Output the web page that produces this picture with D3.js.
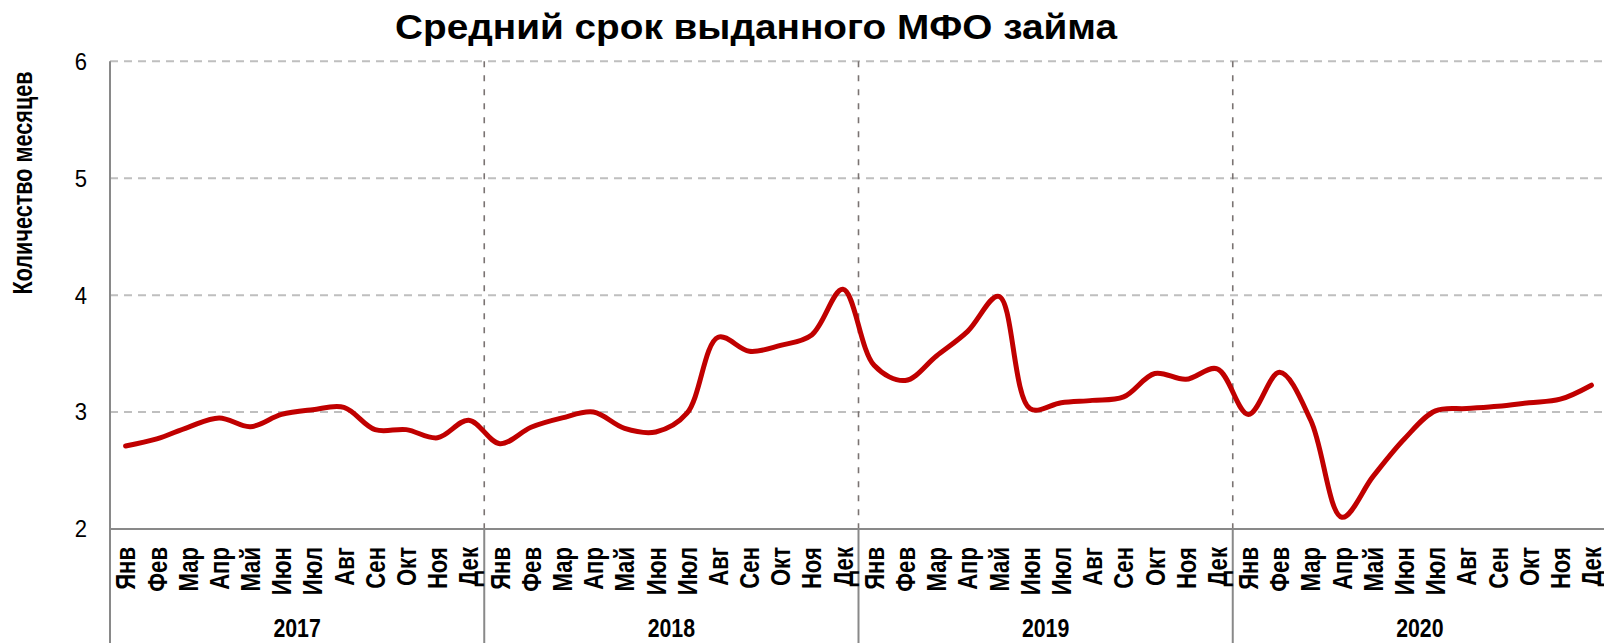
<!DOCTYPE html>
<html>
<head>
<meta charset="utf-8">
<script src="https://cdn.jsdelivr.net/npm/d3@7/dist/d3.min.js"></script>
<style>
  html, body { margin: 0; padding: 0; background: #fff; }
  svg { display: block; }
  text { font-family: "Liberation Sans", Arial, sans-serif; fill: #000; }
</style>
</head>
<body>
<svg id="chart" width="1604" height="643"></svg>
<script>
// ---- data ----
const title = "Средний срок выданного МФО займа";
const yTitle = "Количество месяцев";
const years = ["2017", "2018", "2019", "2020"];
const months = ["Янв", "Фев", "Мар", "Апр", "Май", "Июн", "Июл", "Авг", "Сен", "Окт", "Ноя", "Дек"];
const values2017 = [2.71, 2.77, 2.87, 2.95, 2.875, 2.98, 3.02, 3.04, 2.85, 2.85, 2.78, 2.93];
const values2018 = [2.73, 2.87, 2.95, 3.00, 2.86, 2.83, 2.99, 3.64, 3.52, 3.57, 3.66, 4.05];
const values2019 = [3.40, 3.27, 3.48, 3.69, 3.99, 3.03, 3.08, 3.10, 3.13, 3.33, 3.28, 3.37];
const values2020 = [2.98, 3.34, 2.93, 2.10, 2.45, 2.77, 3.01, 3.03, 3.05, 3.08, 3.11, 3.23];
const yTicks = [2, 3, 4, 5, 6];

const series = [values2017, values2018, values2019, values2020];
const data = [];
years.forEach((yr, yi) => {
  months.forEach((m, mi) => {
    data.push({ key: yr + "-" + mi, year: yr, month: m, value: series[yi][mi] });
  });
});

// ---- layout ----
const svg = d3.select("#chart");
const plotLeft = 110, plotRight = 1607, plotTop = 61.3, plotBottom = 529;

const x = d3.scaleBand().domain(data.map(d => d.key)).range([plotLeft, plotRight]).padding(0);
const y = d3.scaleLinear().domain([2, 6]).range([plotBottom, plotTop]);
const xYear = d3.scaleBand().domain(years).range([plotLeft, plotRight]).padding(0);

// horizontal gridlines
svg.append("g").selectAll("line")
  .data(yTicks.filter(t => t > 2))
  .join("line")
  .attr("x1", plotLeft).attr("x2", 1604)
  .attr("y1", d => y(d)).attr("y2", d => y(d))
  .attr("stroke", "#bfbfbf").attr("stroke-width", 2)
  .attr("stroke-dasharray", "8,6");

// vertical year separators (dashed in plot)
svg.append("g").selectAll("line")
  .data(years.slice(1))
  .join("line")
  .attr("x1", d => xYear(d)).attr("x2", d => xYear(d))
  .attr("y1", plotTop).attr("y2", plotBottom)
  .attr("stroke", "#7a7372").attr("stroke-width", 1.6)
  .attr("stroke-dasharray", "6,8");

// solid separators in the category label area
svg.append("g").selectAll("line")
  .data(years.slice(1))
  .join("line")
  .attr("x1", d => xYear(d)).attr("x2", d => xYear(d))
  .attr("y1", plotBottom).attr("y2", 643)
  .attr("stroke", "#898989").attr("stroke-width", 2);

// y axis line
svg.append("line")
  .attr("x1", plotLeft).attr("x2", plotLeft).attr("y1", plotTop).attr("y2", 643)
  .attr("stroke", "#898989").attr("stroke-width", 2);
// x axis line
svg.append("line")
  .attr("x1", plotLeft).attr("x2", 1604).attr("y1", y(2)).attr("y2", y(2))
  .attr("stroke", "#898989").attr("stroke-width", 2);

// y tick labels
svg.append("g").selectAll("text")
  .data(yTicks)
  .join("text")
  .attr("transform", d => `translate(87,${y(d)}) scale(0.92,1)`)
  .attr("text-anchor", "end")
  .attr("dy", "0.35em")
  .style("font-size", "24px")
  .text(d => d);

// month labels
svg.append("g").selectAll("text")
  .data(data)
  .join("text")
  .attr("transform", d => `translate(${x(d.key) + x.bandwidth() / 2},547) rotate(-90) scale(0.82,1)`)
  .attr("text-anchor", "end")
  .attr("dy", "0.36em")
  .style("font-size", "27px")
  .style("font-weight", "bold")
  .text(d => d.month);

// year labels
svg.append("g").selectAll("text")
  .data(years)
  .join("text")
  .attr("transform", d => `translate(${xYear(d) + xYear.bandwidth() / 2},637) scale(0.82,1)`)
  .attr("text-anchor", "middle")
  .style("font-size", "26px")
  .style("font-weight", "bold")
  .text(d => d);

// y axis title
svg.append("text")
  .attr("transform", "translate(23,183) rotate(-90)")
  .attr("text-anchor", "middle")
  .attr("dy", "0.35em")
  .attr("textLength", 223)
  .attr("lengthAdjust", "spacingAndGlyphs")
  .style("font-size", "27px")
  .style("font-weight", "bold")
  .text(yTitle);

// chart title
svg.append("text")
  .attr("x", 756).attr("y", 39)
  .attr("text-anchor", "middle")
  .attr("textLength", 722)
  .attr("lengthAdjust", "spacingAndGlyphs")
  .style("font-size", "35px")
  .style("font-weight", "bold")
  .text(title);

// line
const line = d3.line()
  .x(d => x(d.key) + x.bandwidth() / 2)
  .y(d => y(d.value))
  .curve(d3.curveCatmullRom.alpha(0.5));

svg.append("path")
  .datum(data)
  .attr("d", line)
  .attr("fill", "none")
  .attr("stroke", "#c00000")
  .attr("stroke-width", 5)
  .attr("stroke-linejoin", "round")
  .attr("stroke-linecap", "round");
</script>
</body>
</html>
